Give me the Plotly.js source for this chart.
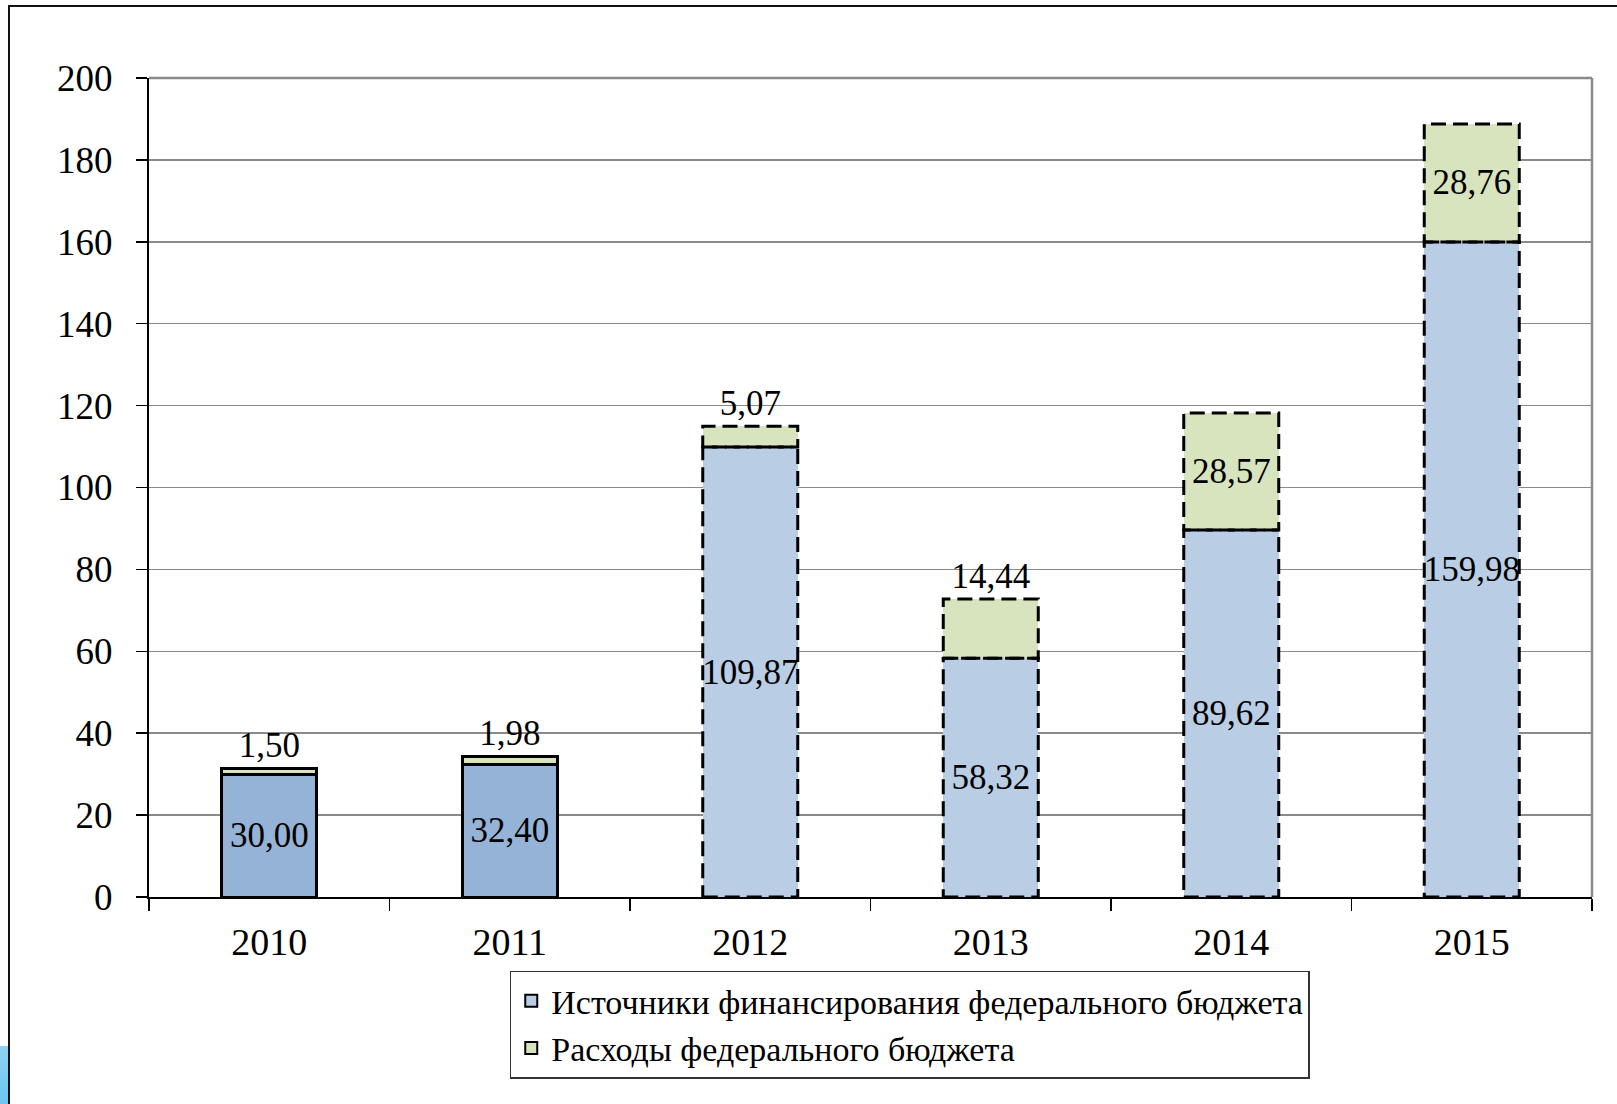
<!DOCTYPE html>
<html>
<head>
<meta charset="utf-8">
<script src="https://cdn.plot.ly/plotly-3.0.1.min.js"></script>
<style>
  html, body { margin: 0; padding: 0; background: #ffffff; overflow: hidden; }
  #wrap { position: relative; width: 1617px; height: 1104px; }
  #chart { position: absolute; left: 0; top: 0; width: 1617px; height: 1104px; }
  #frame { position: absolute; left: 8px; top: 5px; width: 1620px; height: 1110px;
           border-left: 2px solid #111; border-top: 2px solid #111; pointer-events: none; }
  #deco { position: absolute; left: 0; top: 1046px; width: 8px; height: 58px;
          background: linear-gradient(#8fd3f2, #6cc6ee); pointer-events: none; }
</style>
</head>
<body>
<div id="wrap">
  <div id="chart"></div>
  <div id="frame"></div>
  <div id="deco"></div>
</div>
<script>
// ---- data ----
const years = ['2010', '2011', '2012', '2013', '2014', '2015'];
const sources = [30.00, 32.40, 109.87, 58.32, 89.62, 159.98];   // Источники финансирования
const expenses = [1.50, 1.98, 5.07, 14.44, 28.57, 28.76];       // Расходы
const forecast = [false, false, true, true, true, true];
const seriesNames = ['Источники финансирования федерального бюджета', 'Расходы федерального бюджета'];
const yTickVals = [0, 20, 40, 60, 80, 100, 120, 140, 160, 180, 200];

// ---- styles ----
const FONT = 'Liberation Serif, Times New Roman, serif';
const BAR_W = 0.395;
const blueActual = '#95B3D7';
const blueForecast = '#B9CDE5';
const green = '#D7E4BD';
const fmt = v => v.toFixed(2).replace('.', ',');

const blueTrace = {
  type: 'bar', x: years, y: sources, width: BAR_W, name: seriesNames[0], showlegend: false,
  marker: {
    color: forecast.map(f => f ? blueForecast : blueActual),
    line: { color: '#000', width: forecast.map(f => f ? 0 : 3) }
  },
  text: sources.map(fmt), textposition: 'inside', insidetextanchor: 'middle',
  constraintext: 'none', textangle: 0,
  insidetextfont: { family: FONT, size: 35, color: '#000' },
  hoverinfo: 'skip'
};
const greenTrace = {
  type: 'bar', x: years, y: expenses, width: BAR_W, name: seriesNames[1], showlegend: false,
  marker: { color: green, line: { color: '#000', width: forecast.map(f => f ? 0 : 3) } },
  text: expenses.map(fmt),
  textposition: expenses.map(v => (v >= 20 ? 'inside' : 'outside')),
  insidetextanchor: 'middle', constraintext: 'none', textangle: 0,
  insidetextfont: { family: FONT, size: 35, color: '#000' },
  outsidetextfont: { family: FONT, size: 35, color: '#000' },
  cliponaxis: false,
  hoverinfo: 'skip'
};
// legend-only entries (light colours as in the legend)
const legendBlue = { type: 'bar', x: [null], y: [null], name: seriesNames[0],
  marker: { color: blueForecast, line: { color: '#000', width: 2 } }, hoverinfo: 'skip' };
const legendGreen = { type: 'bar', x: [null], y: [null], name: seriesNames[1],
  marker: { color: green, line: { color: '#000', width: 2 } }, hoverinfo: 'skip' };

// dashed outlines for forecast bars, derived from the data
const shapes = [];
years.forEach((yr, i) => {
  if (!forecast[i]) return;
  const dashLine = { color: '#000', width: 3, dash: '15px,7px' };
  shapes.push({ type: 'rect', xref: 'x', yref: 'y', x0: i - BAR_W / 2, x1: i + BAR_W / 2,
    y0: 0, y1: sources[i], line: dashLine, layer: 'above' });
  shapes.push({ type: 'rect', xref: 'x', yref: 'y', x0: i - BAR_W / 2, x1: i + BAR_W / 2,
    y0: sources[i], y1: sources[i] + expenses[i], line: dashLine, layer: 'above' });
});
// gray top and right plot border
shapes.push({ type: 'line', xref: 'paper', yref: 'paper', x0: 0, x1: 1, y0: 1, y1: 1,
  line: { color: '#8a8a8a', width: 2.5 }, layer: 'below' });
shapes.push({ type: 'line', xref: 'paper', yref: 'paper', x0: 1, x1: 1, y0: 0, y1: 1,
  line: { color: '#8a8a8a', width: 2.5 }, layer: 'below' });

const layout = {
  width: 1617, height: 1104,
  margin: { l: 149, r: 25, t: 78, b: 207, pad: 0 },
  paper_bgcolor: '#fff', plot_bgcolor: '#fff',
  barmode: 'stack',
  font: { family: FONT, color: '#000' },
  xaxis: {
    type: 'category', tickson: 'boundaries', ticks: 'outside', ticklen: 12, tickwidth: 1.5,
    tickcolor: '#000', showline: true, linecolor: '#000', linewidth: 2,
    showgrid: false, zeroline: false, range: [-0.5, 5.5],
    tickfont: { family: FONT, size: 38, color: '#000' }, ticklabelstandoff: 10
  },
  yaxis: {
    range: [0, 200], tickmode: 'array', tickvals: yTickVals, ticktext: yTickVals.map(String),
    ticks: 'outside', ticklen: 11, tickwidth: 1.5, tickcolor: '#000',
    showline: true, linecolor: '#000', linewidth: 2,
    showgrid: true, gridcolor: '#8a8a8a', gridwidth: 1.5, zeroline: false,
    tickfont: { family: FONT, size: 37, color: '#000' }, ticklabelstandoff: 16
  },
  legend: {
    x: 0.25, xanchor: 'left', y: -0.09, yanchor: 'top',
    bgcolor: '#fff', bordercolor: '#333', borderwidth: 1.5,
    font: { family: FONT, size: 34, color: '#000' }, tracegroupgap: 0, traceorder: 'normal'
  },
  shapes: shapes,
  showlegend: true
};

Plotly.newPlot('chart', [blueTrace, greenTrace, legendBlue, legendGreen], layout,
  { displayModeBar: false, staticPlot: true });
</script>
</body>
</html>
